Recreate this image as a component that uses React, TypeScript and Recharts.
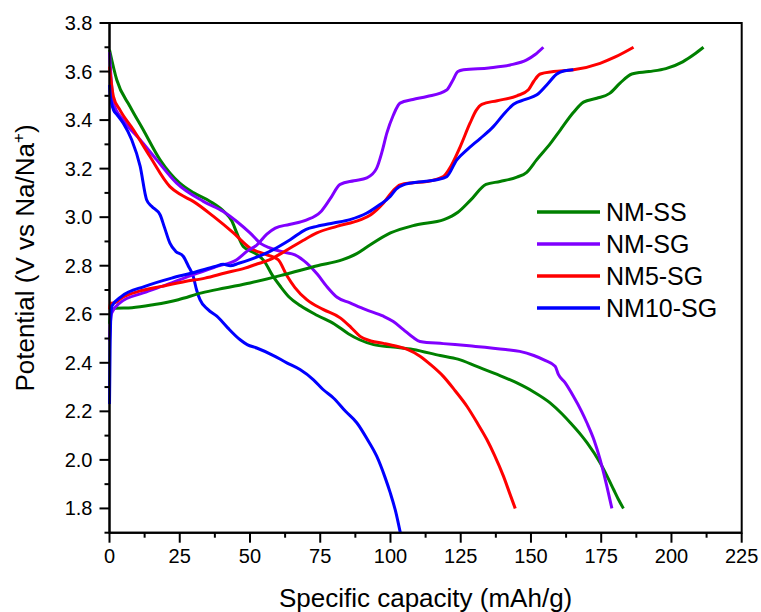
import { Legend, Line, LineChart, ReferenceArea, XAxis, YAxis } from 'recharts'

type Pt = [number, number]

// capacity (mAh/g), potential (V)
const nmssCharge: Pt[] = [
	[0, 2.56], [0.5, 2.61], [2, 2.625], [8, 2.627], [16, 2.64], [24.5, 2.66], [32.8, 2.688],
	[41, 2.708], [50, 2.729], [62, 2.763], [74, 2.8], [83, 2.825], [88, 2.85], [92, 2.88],
	[100, 2.935], [109, 2.968], [119, 2.99], [124, 3.02], [128.5, 3.07], [134, 3.135],
	[139, 3.147], [145, 3.165], [148.5, 3.185], [152, 3.236], [157, 3.305], [160.5, 3.36],
	[165, 3.43], [168.7, 3.474], [173.4, 3.49], [178, 3.51], [181.7, 3.552], [185.9, 3.59],
	[192, 3.6], [198, 3.612], [204, 3.64], [208, 3.67], [211.4, 3.7],
]
const nmssDischarge: Pt[] = [
	[0, 3.69], [2.6, 3.565], [7.3, 3.456], [12, 3.36], [18, 3.236], [25, 3.14], [30, 3.1],
	[35.8, 3.065], [41, 3.02], [43.5, 2.985], [45.3, 2.935], [47.6, 2.879], [52, 2.85],
	[55, 2.82], [58, 2.76], [61, 2.712], [64, 2.67], [68, 2.635], [74, 2.595], [80, 2.56],
	[85, 2.52], [89, 2.495], [94, 2.475], [101, 2.465], [108, 2.455], [117.7, 2.43],
	[124, 2.415], [130.7, 2.385], [138, 2.352], [145, 2.317], [151, 2.28], [156.8, 2.235],
	[161, 2.19], [164, 2.153], [168, 2.1], [170, 2.07], [174.6, 1.988], [177, 1.935],
	[179.4, 1.878], [181, 1.84], [182.9, 1.8],
]

const nmsgCharge: Pt[] = [
	[0, 2.49], [0.3, 2.56], [0.8, 2.605], [3.7, 2.647], [12, 2.688], [20.4, 2.722],
	[29.8, 2.763], [38.2, 2.797], [45.3, 2.825], [49, 2.86], [52.4, 2.885], [56, 2.93],
	[59, 2.955], [64, 2.97], [70, 2.988], [75, 3.02], [78.5, 3.075], [82.1, 3.135],
	[87, 3.15], [91.6, 3.162], [95, 3.2], [97, 3.27], [98.7, 3.346], [101, 3.42],
	[103.4, 3.47], [108, 3.485], [113, 3.497], [120, 3.524], [122, 3.56], [124, 3.6],
	[126, 3.607], [135, 3.615], [142.6, 3.627], [148.5, 3.648], [151.5, 3.67], [154.4, 3.7],
]
const nmsgDischarge: Pt[] = [
	[0, 3.68], [1.4, 3.47], [4.9, 3.4], [10.9, 3.319], [16.8, 3.236], [23.9, 3.14],
	[33.4, 3.065], [40.5, 3.023], [45.3, 2.982], [50, 2.935], [54, 2.89], [57.1, 2.873],
	[62, 2.856], [66, 2.845], [70.2, 2.811], [74, 2.765], [77.3, 2.715], [81, 2.67],
	[85.6, 2.647], [91, 2.62], [97.5, 2.592], [101, 2.57], [104.6, 2.537], [108, 2.505],
	[110.5, 2.488], [118.8, 2.479], [128, 2.47], [141, 2.455], [146, 2.447], [151, 2.43],
	[155, 2.41], [158.6, 2.386], [159.8, 2.351], [162, 2.32], [165.1, 2.262], [168, 2.2],
	[169.9, 2.153], [172.5, 2.08], [174.6, 2.002], [176, 1.94], [177, 1.892], [178.8, 1.8],
]

const nm5Charge: Pt[] = [
	[0, 2.62], [0.3, 2.645], [2, 2.648], [4.3, 2.667], [10.3, 2.694], [18.6, 2.715],
	[26.9, 2.735], [34, 2.749], [41.1, 2.77], [48.2, 2.79], [52, 2.805], [57.1, 2.825],
	[61, 2.85], [64.3, 2.873], [69, 2.905], [73.8, 2.935], [80.9, 2.962], [89.2, 2.989],
	[93, 3.01], [97.5, 3.058], [101, 3.11], [103.4, 3.133], [108, 3.142], [112.9, 3.147],
	[118.8, 3.167], [121, 3.2], [124.8, 3.29], [128.3, 3.387], [130.5, 3.44], [132.5, 3.465],
	[138, 3.48], [145, 3.5], [149.1, 3.525], [151, 3.56], [153.3, 3.59], [158, 3.6],
	[165.1, 3.607], [174.6, 3.634], [180, 3.66], [186.5, 3.7],
]
const nm5Discharge: Pt[] = [
	[0, 3.62], [1.4, 3.497], [3.7, 3.442], [8.5, 3.36], [14.4, 3.25], [21.5, 3.126],
	[25, 3.095], [29.8, 3.065], [37, 3.003], [44.1, 2.935], [50, 2.873], [56, 2.845],
	[60, 2.825], [63.1, 2.76], [66, 2.71], [70.2, 2.66], [76, 2.62], [82.1, 2.585],
	[86, 2.545], [89.2, 2.509], [93, 2.49], [97.5, 2.48], [102.2, 2.468], [106, 2.455],
	[110.5, 2.427], [114, 2.395], [118.8, 2.344], [123, 2.285], [127.2, 2.221], [131, 2.15],
	[134.3, 2.084], [137, 2.02], [140.2, 1.933], [142.5, 1.86], [144.4, 1.8],
]

const nm10Charge: Pt[] = [
	[0, 2.23], [0.2, 2.45], [0.5, 2.6], [0.8, 2.633], [4.3, 2.674], [12.6, 2.715],
	[22.1, 2.749], [29.3, 2.77], [37.6, 2.797], [40.5, 2.806], [43, 2.8], [46, 2.81],
	[50, 2.825], [57.1, 2.859], [64.3, 2.907], [70, 2.95], [73.8, 2.962], [79.7, 2.976],
	[85.6, 2.99], [91.6, 3.017], [96, 3.05], [99.9, 3.085], [102, 3.115], [104.6, 3.133],
	[110, 3.145], [116.5, 3.154], [120, 3.167], [123.6, 3.236], [127.2, 3.277], [132, 3.325],
	[136.6, 3.373], [140, 3.42], [143.8, 3.465], [148, 3.485], [152.1, 3.504], [156, 3.55],
	[159.2, 3.59], [162, 3.603], [165.1, 3.607],
]
const nm10Discharge: Pt[] = [
	[0, 3.545], [0.3, 3.5], [1.5, 3.44], [2.5, 3.425], [4.9, 3.387], [7.9, 3.319],
	[10.9, 3.21], [13.2, 3.072], [15, 3.045], [18, 3.01], [19.5, 2.96], [21.5, 2.893],
	[23.5, 2.86], [26.3, 2.838], [28, 2.8], [29.8, 2.756], [31, 2.7], [32.2, 2.66],
	[35, 2.62], [38.2, 2.592], [42, 2.545], [46.5, 2.495], [49, 2.475], [52.4, 2.461],
	[58, 2.432], [63.1, 2.4], [67.8, 2.372], [72.6, 2.33], [76, 2.29], [79.7, 2.255],
	[84, 2.2], [88, 2.153], [92, 2.08], [95.1, 2.015], [98, 1.93], [99.9, 1.865],
	[102, 1.78], [103.5, 1.7],
]

const seriesNames = ['NM-SS', 'NM-SG', 'NM5-SG', 'NM10-SG']
const seriesColors = ['#008000', '#8000ff', '#ff0000', '#0000ff']
const chargeCurves = [nmssCharge, nmsgCharge, nm5Charge, nm10Charge]
const dischargeCurves = [nmssDischarge, nmsgDischarge, nm5Discharge, nm10Discharge]

const xMajorTicks = [0, 25, 50, 75, 100, 125, 150, 175, 200, 225]
const yMajorTicks = [1.8, 2.0, 2.2, 2.4, 2.6, 2.8, 3.0, 3.2, 3.4, 3.6, 3.8]

const xTicks = xMajorTicks.flatMap((t, i) => (i === 0 ? [t] : [t - 12.5, t]))
const yTicks = [1.7, ...yMajorTicks.flatMap((t, i) => (i === 0 ? [t] : [t - 0.1, t]))]

const FONT = '"Liberation Sans", Arial, sans-serif'

const toRows = (pts: Pt[]) => pts.map(([cap, v]) => ({ cap, v }))

const XTick = (props: any) => {
	const { x, y, payload } = props
	const major = xMajorTicks.includes(payload.value)
	return (
		<g>
			<line x1={x} x2={x} y1={y} y2={y + (major ? 10 : 5)} stroke='#000' strokeWidth={2} />
			{major && (
				<text x={x} y={y + 30} textAnchor='middle' fontSize={20} fontFamily={FONT} fill='#000'>
					{payload.value}
				</text>
			)}
		</g>
	)
}

const YTick = (props: any) => {
	const { x, y, payload } = props
	const major = yMajorTicks.some(t => Math.abs(t - payload.value) < 1e-6)
	return (
		<g>
			<line x1={x - (major ? 10 : 5)} x2={x} y1={y} y2={y} stroke='#000' strokeWidth={2} />
			{major && (
				<text x={x - 17} y={y} dy='0.35em' textAnchor='end' fontSize={20} fontFamily={FONT} fill='#000'>
					{payload.value.toFixed(1)}
				</text>
			)}
		</g>
	)
}

const XTitle = () => (
	<text x={425.6} y={607} textAnchor='middle' fontSize={26} fontFamily={FONT} fill='#000'>
		Specific capacity (mAh/g)
	</text>
)

const YTitle = () => (
	<text
		x={34}
		y={258}
		transform='rotate(-90 34 258)'
		textAnchor='middle'
		fontSize={26}
		fontFamily={FONT}
		fill='#000'
	>
		Potential (V vs Na/Na
		<tspan dy={-10} fontSize={17}>
			+
		</tspan>
		<tspan dy={10}>)</tspan>
	</text>
)

// one row per sample, in series order; discharge curves carry no name
const LegendBox = ({ payload }: any) => (
	<div style={{ fontFamily: FONT }}>
		{seriesNames.map(name => {
			const entry = (payload ?? []).find((p: any) => p.value === name)
			const color = entry?.color ?? seriesColors[seriesNames.indexOf(name)]
			return (
				<div key={name} style={{ display: 'flex', alignItems: 'center', height: 32.2 }}>
					<svg width={63} height={6} style={{ marginRight: 6 }}>
						<line x1={0} x2={63} y1={3} y2={3} stroke={color} strokeWidth={3.5} />
					</svg>
					<span style={{ fontSize: 25, lineHeight: '32.2px', color: '#000' }}>{name}</span>
				</div>
			)
		})}
	</div>
)

export default function App() {
	return (
		<div style={{ position: 'absolute', left: 0, top: 0, width: 761, height: 612, background: '#fff' }}>
			<LineChart width={761} height={612} margin={{ top: 23, right: 19.3, bottom: 9.3, left: 9.5 }}>
				<XAxis
					type='number'
					dataKey='cap'
					domain={[0, 225]}
					ticks={xTicks}
					interval={0}
					tickSize={0}
					tickMargin={0}
					tick={<XTick />}
					axisLine={{ stroke: '#000', strokeWidth: 2 }}
					height={70}
					label={<XTitle />}
				/>
				<YAxis
					type='number'
					dataKey='v'
					domain={[1.7, 3.8]}
					ticks={yTicks}
					interval={0}
					tickSize={0}
					tickMargin={0}
					tick={<YTick />}
					axisLine={{ stroke: '#000', strokeWidth: 2 }}
					width={100}
					allowDataOverflow
					label={<YTitle />}
				/>
				<ReferenceArea x1={0} x2={225} y1={1.7} y2={3.8} fill='none' stroke='#000' strokeWidth={2} />
				{seriesNames.map((name, i) => (
					<Line
						key={`${name}-d`}
						data={toRows(dischargeCurves[i])}
						dataKey='v'
						type='monotone'
						stroke={seriesColors[i]}
						strokeWidth={3}
						dot={false}
						legendType='none'
						isAnimationActive={false}
					/>
				))}
				{seriesNames.map((name, i) => (
					<Line
						key={`${name}-c`}
						name={name}
						data={toRows(chargeCurves[i])}
						dataKey='v'
						type='monotone'
						stroke={seriesColors[i]}
						strokeWidth={3}
						dot={false}
						isAnimationActive={false}
					/>
				))}
				<Legend
					layout='vertical'
					align='center'
					verticalAlign='middle'
					wrapperStyle={{ left: 537, top: 195.6, width: 200 }}
					content={<LegendBox />}
				/>
			</LineChart>
		</div>
	)
}
